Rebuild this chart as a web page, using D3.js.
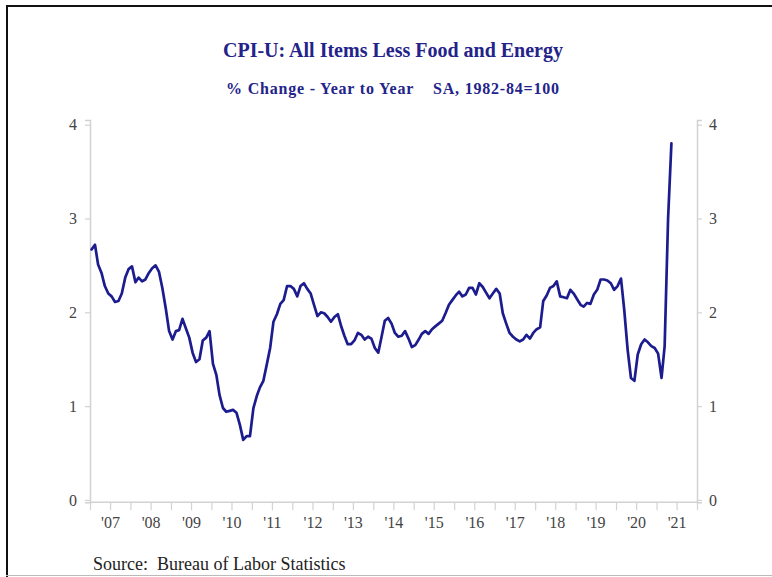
<!DOCTYPE html>
<html>
<head>
<meta charset="utf-8">
<script src="https://cdn.jsdelivr.net/npm/d3@7/dist/d3.min.js"></script>
<style>
  html, body { margin: 0; padding: 0; background: #fff; }
  svg { display: block; }
</style>
</head>
<body>
<svg id="chart" width="772" height="577"></svg>
<script>
// ---- Data (monthly, Jan 2007 .. May 2021), % change year to year ----
const startYear = 2007;
const values = [
  2.67, 2.72, 2.51, 2.42, 2.28, 2.20, 2.17, 2.11, 2.12, 2.20, 2.37, 2.46,   // 2007
  2.49, 2.32, 2.37, 2.33, 2.35, 2.42, 2.47, 2.50, 2.43, 2.26, 2.04, 1.80,   // 2008
  1.71, 1.80, 1.81, 1.93, 1.83, 1.73, 1.57, 1.47, 1.50, 1.70, 1.73, 1.80,   // 2009
  1.45, 1.33, 1.12, 0.98, 0.94, 0.95, 0.96, 0.93, 0.80, 0.64, 0.68, 0.68,   // 2010
  0.98, 1.11, 1.20, 1.27, 1.44, 1.62, 1.90, 1.98, 2.09, 2.13, 2.28, 2.28,   // 2011
  2.25, 2.17, 2.28, 2.31, 2.25, 2.20, 2.08, 1.96, 2.00, 1.99, 1.95, 1.90,   // 2012
  1.95, 1.98, 1.86, 1.75, 1.66, 1.66, 1.70, 1.78, 1.76, 1.71, 1.74, 1.72,   // 2013
  1.62, 1.57, 1.73, 1.91, 1.94, 1.88, 1.78, 1.74, 1.75, 1.80, 1.72, 1.63,   // 2014
  1.65, 1.71, 1.77, 1.80, 1.77, 1.82, 1.85, 1.88, 1.91, 1.99, 2.08, 2.13,   // 2015
  2.18, 2.22, 2.17, 2.19, 2.26, 2.26, 2.19, 2.31, 2.27, 2.21, 2.15, 2.20,   // 2016
  2.25, 2.20, 1.99, 1.88, 1.78, 1.74, 1.71, 1.69, 1.71, 1.76, 1.72, 1.78,   // 2017
  1.82, 1.84, 2.12, 2.18, 2.26, 2.28, 2.33, 2.17, 2.16, 2.15, 2.24, 2.20,   // 2018
  2.14, 2.08, 2.06, 2.10, 2.09, 2.19, 2.24, 2.35, 2.35, 2.34, 2.31, 2.24,   // 2019
  2.28, 2.36, 2.03, 1.60, 1.30, 1.27, 1.55, 1.66, 1.71, 1.68, 1.64, 1.62,   // 2020
  1.56, 1.30, 1.64, 3.00, 3.80                                              // 2021
];
const yTicks = [0, 1, 2, 3, 4];
const titleText = "CPI-U: All Items Less Food and Energy";
const subtitleText = "% Change - Year to Year    SA, 1982-84=100";
const sourceText = "Source:  Bureau of Labor Statistics";

const series = values.map((v, i) => ({ date: new Date(startYear, i, 15), value: v }));

// ---- Layout ----
const svg = d3.select("#chart");
const plotLeft = 90, plotRight = 697, plotTop = 120, plotBottom = 502.3;

const x = d3.scaleTime()
  .domain([new Date(2007, 0, 1), new Date(2022, 0, 1)])
  .range([plotLeft, plotRight]);
const y = d3.scaleLinear()
  .domain([-0.025, 4.05])
  .range([plotBottom, plotTop]);

// frame
svg.append("line").attr("x1", 7).attr("x2", 7).attr("y1", 5).attr("y2", 577)
  .attr("stroke", "#111").attr("stroke-width", 2);
svg.append("line").attr("x1", 6).attr("x2", 772).attr("y1", 6).attr("y2", 6)
  .attr("stroke", "#111").attr("stroke-width", 2);
svg.append("line").attr("x1", 6).attr("x2", 772).attr("y1", 575.5).attr("y2", 575.5)
  .attr("stroke", "#bbb").attr("stroke-width", 1);

// titles
svg.append("text").attr("x", 393).attr("y", 57).attr("text-anchor", "middle")
  .attr("font-family", "Liberation Serif, serif").attr("font-weight", "bold")
  .attr("font-size", 20).attr("fill", "#23238a").text(titleText);
svg.append("text").attr("x", 393).attr("y", 94).attr("text-anchor", "middle")
  .attr("font-family", "Liberation Serif, serif").attr("font-weight", "bold")
  .attr("font-size", 16).attr("letter-spacing", 0.8).attr("fill", "#23238a")
  .attr("xml:space", "preserve").style("white-space", "pre").text(subtitleText);

const axisColor = "#d2d2d2";
const labelColor = "#444";
const tickFont = "Liberation Serif, serif";

// left axis
const gL = svg.append("g").attr("transform", `translate(${plotLeft},0)`)
  .call(d3.axisLeft(y).tickValues(yTicks).tickSize(5).tickPadding(8).tickFormat(d3.format("d")));
// right axis
const gR = svg.append("g").attr("transform", `translate(${plotRight},0)`)
  .call(d3.axisRight(y).tickValues(yTicks).tickSize(5).tickPadding(7).tickFormat(d3.format("d")));
// bottom axis
const xTicks = d3.timeMonth.every(6).range(new Date(2007, 0, 1), new Date(2022, 0, 2));
const gB = svg.append("g").attr("transform", `translate(0,${plotBottom})`)
  .call(d3.axisBottom(x).tickValues(xTicks).tickSize(8).tickPadding(6)
    .tickFormat(d => d.getMonth() === 6 ? "'" + d3.timeFormat("%y")(d) : ""));

[gL, gR, gB].forEach(g => {
  g.select(".domain").attr("stroke", axisColor).attr("stroke-width", 1.5);
  g.selectAll(".tick line").attr("stroke", axisColor).attr("stroke-width", 1.2);
  g.selectAll(".tick text").attr("fill", labelColor)
    .attr("font-family", tickFont).attr("font-size", 16);
});
gB.select(".domain").attr("d", `M${plotLeft},0H${plotRight}`);

// line
const line = d3.line().x(d => x(d.date)).y(d => y(d.value)).curve(d3.curveLinear);
svg.append("path").datum(series)
  .attr("fill", "none").attr("stroke", "#1c1c8e").attr("stroke-width", 2.7)
  .attr("stroke-linejoin", "round").attr("stroke-linecap", "round")
  .attr("d", line);

// source
svg.append("text").attr("x", 93).attr("y", 570)
  .attr("font-family", "Liberation Serif, serif").attr("font-size", 18)
  .attr("fill", "#222").attr("xml:space", "preserve").style("white-space", "pre")
  .text(sourceText);
</script>
</body>
</html>
